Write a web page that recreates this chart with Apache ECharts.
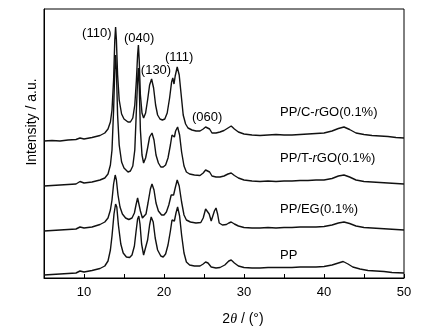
<!DOCTYPE html>
<html>
<head>
<meta charset="utf-8">
<script src="https://cdn.jsdelivr.net/npm/echarts@6/dist/echarts.min.js"></script>
<style>html,body{margin:0;padding:0;background:#fff}#c{width:435px;height:332px}</style>
</head>
<body>
<div id="c"></div>
<script>
// 2θ (deg) vs intensity (a.u., stacked/offset as in the figure)
const ppCrGO = [[5,137],[6,137.5],[7,137],[8,138],[9,138.5],[9.5,140],[9.7,139],[10,139],[11,140.5],[12,142.5],[12.6,145],[13,149],[13.3,156],[13.5,168],[13.7,198],[13.85,238],[13.95,251],[14.05,238],[14.2,203],[14.4,178],[14.7,164],[15,159],[15.5,156],[15.8,156],[16.1,160],[16.35,173],[16.55,198],[16.7,223],[16.8,233],[16.9,218],[17.05,183],[17.25,165],[17.45,160],[17.7,165],[17.95,178],[18.2,193],[18.45,199],[18.7,190],[18.95,173],[19.2,163],[19.5,159],[19.8,158],[20.1,159],[20.4,165],[20.7,180],[20.95,196],[21.1,200],[21.25,194],[21.4,202],[21.65,211],[21.9,203],[22.15,183],[22.4,163],[22.7,154],[23,150],[23.5,148],[24,147],[24.5,147],[24.9,149],[25.2,151],[25.4,152],[25.7,149],[26,145],[26.5,145],[27,146],[27.5,147.5],[28,150],[28.4,152],[28.8,149],[29.3,146],[30,144],[31,143],[32,142.5],[33,143],[34,143.5],[35,143],[36,143],[37,143.5],[38,144],[39,144.5],[40,145],[41,147],[41.8,149.5],[42.5,151],[43.2,148.5],[44,145],[45,143.5],[46,142.5],[47,142],[48,141.5],[49,140.5],[50,140]];
const ppTrGO = [[5,92],[6,92.5],[7,93],[8,93.5],[9,94],[9.5,96.5],[9.7,94.5],[10,95],[11,96],[12,98],[12.6,100],[13,104],[13.3,113],[13.5,128],[13.7,168],[13.85,208],[13.95,223],[14.05,208],[14.2,163],[14.4,133],[14.7,116],[15,110],[15.5,106],[15.8,107],[16.1,112],[16.35,128],[16.55,168],[16.7,198],[16.8,210],[16.9,193],[17.05,148],[17.25,123],[17.45,115],[17.7,120],[17.95,130],[18.2,141],[18.5,145],[18.75,138],[19,123],[19.3,115],[19.6,111],[19.9,111],[20.2,113],[20.5,120],[20.8,133],[21,143],[21.15,142],[21.3,141],[21.45,147],[21.7,151],[21.95,143],[22.2,126],[22.5,112],[22.8,106],[23.2,104],[23.8,103],[24.5,102.5],[24.9,105],[25.2,108],[25.4,109],[25.7,106],[26,102],[26.5,101],[27,101],[27.5,102],[28,104],[28.4,105],[28.8,102.5],[29.3,100],[30,98],[31,97],[32,96.5],[33,97],[34,96.5],[35,97],[36,97],[37,97.5],[38,97.5],[39,98],[40,98],[41,99.5],[41.8,102],[42.5,103],[43.2,101],[44,98],[45,96.5],[46,96],[47,95.5],[48,95],[49,94.5],[50,94]];
const ppEG = [[5,47],[6,47.5],[7,48],[8,48.5],[9,49],[9.5,51],[9.7,49.5],[10,50],[11,51],[12,53.5],[12.6,56],[13,60],[13.3,68],[13.5,78],[13.7,94],[13.9,103],[14.05,98],[14.25,83],[14.5,71],[14.8,64],[15.2,60],[15.6,58.5],[16,60],[16.3,65],[16.5,73],[16.7,80],[16.85,78],[17.05,67],[17.3,60],[17.5,59],[17.75,64],[18,75],[18.3,89],[18.5,94],[18.75,88],[19,75],[19.3,67],[19.7,63],[20,63],[20.3,66],[20.6,73],[20.9,83],[21.05,85],[21.2,83],[21.4,90],[21.65,98],[21.9,92],[22.2,76],[22.5,63],[22.8,58],[23.3,56],[24,55],[24.6,55.5],[24.9,60],[25.2,69],[25.4,71],[25.65,64],[25.9,57],[26.1,59],[26.3,67],[26.5,70],[26.7,64],[26.9,55],[27.3,53],[27.8,53.5],[28.1,55],[28.4,56],[28.8,54],[29.3,52],[30,50.5],[31,50],[32,50],[33,50.5],[34,50],[35,50.5],[36,50.5],[37,51],[38,51],[39,51],[40,51.5],[41,53],[41.8,55],[42.5,56],[43.2,54.5],[44,52],[45,50.5],[46,50],[47,49.5],[48,49],[49,48.5],[50,48]];
const pp = [[5,3],[6,3.5],[7,4],[8,4.5],[9,5],[9.5,7],[9.7,5.5],[10,6],[11,7.5],[12,9.5],[12.6,12],[13,17],[13.3,28],[13.5,42],[13.75,64],[13.95,74],[14.1,71],[14.3,53],[14.6,34],[14.9,25],[15.3,21],[15.7,20.5],[16,23],[16.3,32],[16.5,46],[16.7,59],[16.85,62],[17,54],[17.2,34],[17.45,23],[17.7,25],[17.95,38],[18.2,53],[18.4,61],[18.65,56],[18.9,40],[19.2,28],[19.6,22],[19.9,21],[20.2,24],[20.5,33],[20.8,47],[21,58],[21.15,60],[21.3,57],[21.5,65],[21.7,71],[21.95,62],[22.2,43],[22.5,25],[22.8,16],[23.2,13],[23.8,12],[24.5,12],[24.9,14],[25.2,16],[25.5,15],[25.9,11],[26.5,10],[27,10.5],[27.6,13],[28.1,17],[28.4,18],[28.8,15],[29.3,12],[30,10.5],[31,10],[32,10],[33,10.5],[34,10.5],[35,10.5],[36,10.5],[37,11],[38,11],[39,11],[40,11.5],[41,13],[41.8,15],[42.4,16.5],[43,14],[43.6,11],[44.5,9],[45.5,7.5],[46.5,7],[47.5,6.5],[48.5,5.5],[50,5]];

const seriesNames = ['PP/C-rGO(0.1%)','PP/T-rGO(0.1%)','PP/EG(0.1%)','PP'];
const seriesRich = ['PP/C-{i|r}GO(0.1%)','PP/T-{i|r}GO(0.1%)','PP/EG(0.1%)','PP'];
const seriesLabelAt = [[34.5,166],[34.5,120],[34.5,69],[34.5,23]];
const peakLabels = ['(110)','(040)','(130)','(111)','(060)'];
const peakLabelAt = [[11.6,245],[16.9,240],[19.0,208],[21.9,221],[25.4,161]];
const xTicks = [10,20,30,40,50];

const chart = echarts.init(document.getElementById('c'), null, {renderer:'canvas'});
const FONT = 'Liberation Sans, Arial, sans-serif';
const datasets = [ppCrGO, ppTrGO, ppEG, pp];

chart.setOption({
  animation:false,
  backgroundColor:'#fff',
  grid:{left:44,right:31,top:9,bottom:54,show:true,borderColor:'#000',borderWidth:1,backgroundColor:'transparent'},
  xAxis:{type:'value',min:5,max:50,interval:5,
    axisLine:{lineStyle:{color:'#000',width:1}},
    axisTick:{inside:true,length:4,lineStyle:{color:'#000'}},
    axisLabel:{margin:8,color:'#000',fontSize:13,fontFamily:FONT,
      formatter:v=>xTicks.includes(v)?String(v):''},
    splitLine:{show:false}},
  yAxis:{type:'value',min:0,max:269,
    axisLine:{show:true,lineStyle:{color:'#000'}},axisTick:{show:false},axisLabel:{show:false},splitLine:{show:false}},
  series: datasets.map((d,i)=>({name:seriesNames[i],type:'line',data:d,showSymbol:false,
    lineStyle:{color:'#111',width:1.4},z:2+i}))
});

function place(){
  const g=[];
  peakLabels.forEach((t,i)=>{
    const p=chart.convertToPixel({gridIndex:0},peakLabelAt[i]);
    g.push({type:'text',x:p[0],y:p[1],z:50,style:{text:t,fill:'#000',font:'13px '+FONT,align:'center',verticalAlign:'middle'}});
  });
  seriesRich.forEach((t,i)=>{
    const p=chart.convertToPixel({gridIndex:0},seriesLabelAt[i]);
    g.push({type:'text',x:p[0],y:p[1],z:50,style:{text:t,fill:'#000',fontSize:13,fontFamily:FONT,align:'left',verticalAlign:'middle',
      rich:{i:{fontStyle:'italic',fontSize:13,fontFamily:FONT,fill:'#000'}}}});
  });
  g.push({type:'text',x:243,y:319.5,z:50,style:{text:'2{i|θ} / (°)',fill:'#000',fontSize:14,fontFamily:FONT,align:'center',verticalAlign:'middle',
    rich:{i:{fontStyle:'italic',fontSize:14,fontFamily:'Liberation Serif, serif',fill:'#000'}}}});
  g.push({type:'text',x:32,y:122,rotation:Math.PI/2,z:50,style:{text:'Intensity / a.u.',fill:'#000',fontSize:14,fontFamily:FONT,align:'center',verticalAlign:'middle'}});
  chart.setOption({graphic:g});
}
place();
</script>
</body>
</html>
